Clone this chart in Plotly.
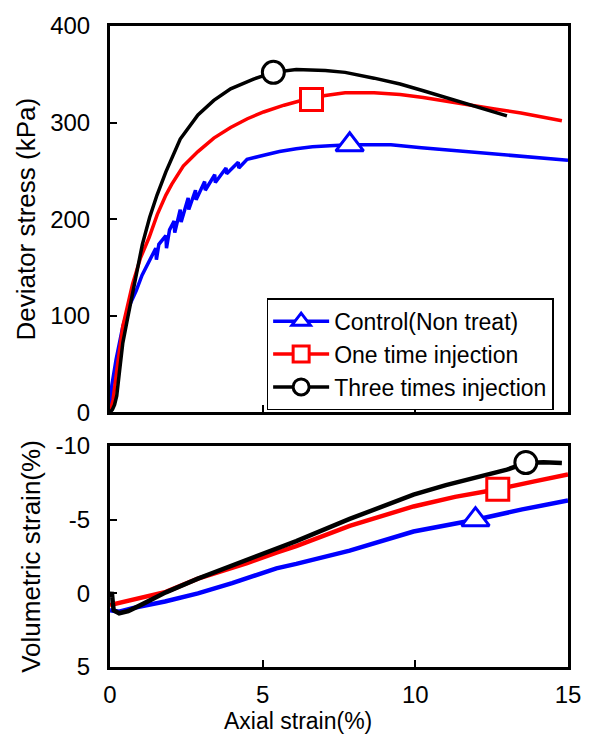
import plotly.graph_objects as go

# ---------------- data ----------------
names = ["Control(Non treat)", "One time injection", "Three times injection"]
colors = ["#0000FF", "#FF0000", "#000000"]
symbols = ["triangle-up", "square", "circle"]

# Deviator stress (kPa) vs axial strain (%)
blue_q_x = [0, 0.06, 0.2, 0.42, 0.6, 0.86, 1.05, 1.28, 1.5, 1.52, 1.6, 1.83, 1.85, 1.95, 2.1, 2.12,
            2.3, 2.33, 2.56, 2.58, 2.8, 2.82, 3.1, 3.12, 3.43, 3.45, 3.8, 3.82, 4.2, 4.22, 4.49, 5.0,
            5.55, 6.1, 6.63, 7.2, 7.85, 8.5, 9.2, 10.2, 11.3, 12.4, 13.46, 14.2, 15.0]
blue_q_y = [0, 28, 55, 89, 108, 126, 142, 157, 170, 158, 174, 183, 170, 189, 198, 186,
            210, 197, 222, 210, 230, 220, 239, 230, 246, 238, 253, 247, 259, 253, 262, 266,
            270, 273, 275, 276, 277, 277, 277, 274, 271, 268, 265, 263, 261]

red_q_x = [0, 0.1, 0.25, 0.42, 0.74, 1.0, 1.28, 1.55, 1.83, 2.02, 2.4, 2.88, 3.4, 3.95, 4.5,
           5.03, 5.7, 6.5, 7.05, 7.7, 8.65, 9.5, 10.26, 11.0, 11.86, 12.6, 13.46, 14.2, 14.8]
red_q_y = [0, 13, 50, 89, 133, 160, 181, 205, 225, 236, 255, 270, 284, 295, 304,
           311, 318, 325, 328, 331, 331, 329, 326, 322, 318, 314, 310, 306, 302]

black_q_x = [0, 0.08, 0.15, 0.22, 0.32, 0.42, 0.58, 0.74, 0.9, 1.06, 1.3, 1.54, 1.83, 2.3, 2.88,
             3.4, 3.95, 4.7, 5.35, 6.1, 7.05, 7.7, 8.65, 9.5, 10.26, 11.0, 11.86, 12.5, 13.0]
black_q_y = [0, 3, 8, 17, 45, 72, 98, 123, 150, 174, 202, 225, 249, 283, 308,
             323, 335, 345, 352, 355, 354, 352, 346, 340, 333, 326, 318, 312, 307]

# Volumetric strain (%) vs axial strain (%)
blue_v_x = [0, 0.1, 0.3, 0.74, 1.8, 2.88, 4.0, 5.45, 6.1, 7.85, 9.94, 11.97, 13.5, 15.0]
blue_v_y = [1.14, 1.2, 1.25, 1.0, 0.55, 0.0, -0.7, -1.7, -2.0, -2.9, -4.2, -5.0, -5.7, -6.3]

red_v_x = [0, 1.0, 1.83, 2.88, 4.49, 5.45, 6.1, 7.85, 9.94, 11.3, 12.7, 13.9, 15.0]
red_v_y = [0.8, 0.35, -0.1, -1.0, -2.05, -2.76, -3.2, -4.58, -5.9, -6.55, -7.07, -7.6, -8.07]

black_v_x = [0.03, 0.06, 0.09, 0.12, 0.3, 0.6, 1.0, 1.83, 2.88, 4.49, 5.45, 6.1, 7.85, 9.94,
             11.0, 12.08, 13.0, 13.62, 14.2, 14.8]
black_v_y = [0.3, -0.1, 0.6, 1.15, 1.35, 1.2, 0.8, -0.07, -1.0, -2.3, -3.1, -3.55, -5.05, -6.7,
             -7.35, -7.9, -8.4, -8.85, -8.9, -8.85]

# single marker positions
mark_q_x = [7.85, 6.6, 5.35]
mark_q_y = [277, 324, 352]
mark_v_x = [11.97, 12.7, 13.62]
mark_v_y = [-5.0, -7.07, -8.88]

x_ticks = [0, 5, 10, 15]
q_ticks = [0, 100, 200, 300, 400]
v_ticks = [-10, -5, 0, 5]
v_ticktext = ["-10", "-5", "0", "5"]

# ---------------- figure ----------------
FONT = "Arial, Liberation Sans, sans-serif"
TICK_FS = 24
XTITLE_FS = 23
YTITLE_FS = 26
fig = go.Figure()

q_series = [(blue_q_x, blue_q_y), (red_q_x, red_q_y), (black_q_x, black_q_y)]
v_series = [(blue_v_x, blue_v_y), (red_v_x, red_v_y), (black_v_x, black_v_y)]

for i in range(3):
    fig.add_trace(go.Scatter(x=q_series[i][0], y=q_series[i][1], mode="lines",
                             line=dict(color=colors[i], width=3.5), showlegend=False,
                             xaxis="x", yaxis="y"))
    fig.add_trace(go.Scatter(x=v_series[i][0], y=v_series[i][1], mode="lines",
                             line=dict(color=colors[i], width=4.5), showlegend=False,
                             xaxis="x2", yaxis="y2"))

for i in range(3):
    mk = dict(symbol=symbols[i], size=22 if i != 0 else 24,
              color="white", line=dict(color=colors[i], width=3))
    fig.add_trace(go.Scatter(x=[mark_q_x[i]], y=[mark_q_y[i]], mode="lines+markers",
                             name=names[i], marker=mk, line=dict(color=colors[i], width=3.5),
                             showlegend=True, xaxis="x", yaxis="y"))
    fig.add_trace(go.Scatter(x=[mark_v_x[i]], y=[mark_v_y[i]], mode="markers",
                             marker=mk, showlegend=False, xaxis="x2", yaxis="y2"))

axis_common = dict(showline=True, linecolor="black", linewidth=3, mirror=True,
                   ticks="inside", ticklen=7, tickwidth=1.5, tickcolor="black",
                   showgrid=False, zeroline=False,
                   tickfont=dict(family=FONT, size=TICK_FS, color="black"))

fig.update_layout(
    width=593, height=747,
    margin=dict(l=110, r=15, t=20, b=80),
    paper_bgcolor="white", plot_bgcolor="white",
    font=dict(family=FONT, color="black"),
    xaxis=dict(domain=[0, 1], range=[0, 15], tickvals=x_ticks, showticklabels=False,
               anchor="y", **axis_common),
    yaxis=dict(domain=[0.3972, 1], range=[0, 400], tickvals=q_ticks, ticklabelstandoff=12,
               title=dict(text="Deviator stress (kPa)", font=dict(family=FONT, size=YTITLE_FS), standoff=8),
               anchor="x", **axis_common),
    xaxis2=dict(domain=[0, 1], range=[0, 15], tickvals=x_ticks, anchor="y2", ticklabelstandoff=4,
                **axis_common),
    yaxis2=dict(domain=[0, 0.3447], range=[5, -10], tickvals=v_ticks, ticktext=v_ticktext,
                anchor="x2", ticklabelstandoff=12,
                title=dict(text="Volumetric strain(%)", font=dict(family=FONT, size=YTITLE_FS), standoff=8),
                **axis_common),
    legend=dict(x=0.342, y=0.488, xanchor="left", yanchor="middle",
                bgcolor="white", bordercolor="black", borderwidth=1.5,
                font=dict(family=FONT, size=23, color="black"),
                tracegroupgap=0, itemwidth=56),
    annotations=[dict(text="Axial strain(%)", xref="paper", yref="paper", x=0.41, y=-0.085,
                      xanchor="center", yanchor="middle", showarrow=False,
                      font=dict(family=FONT, size=XTITLE_FS, color="black"))],
)

fig.write_html("out.html")
